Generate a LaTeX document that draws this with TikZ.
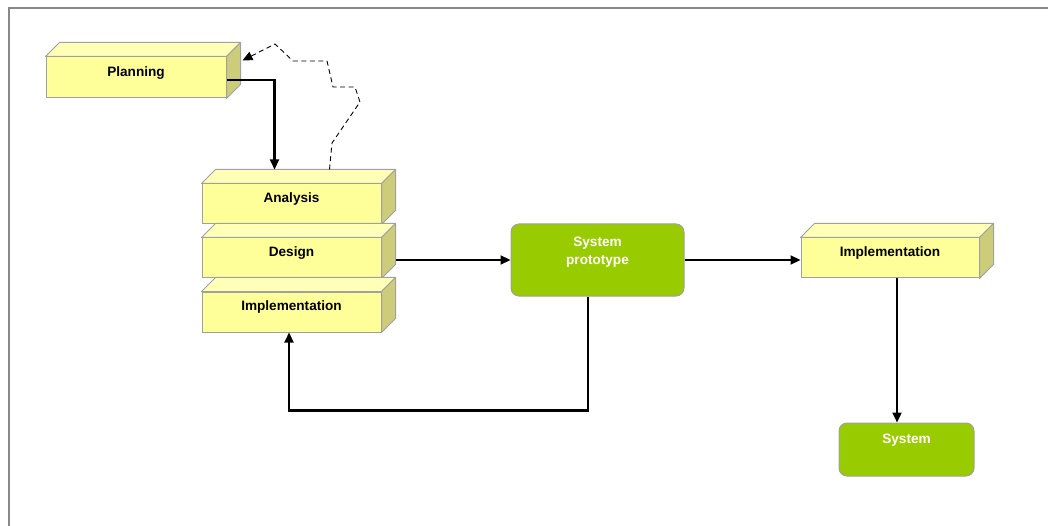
\documentclass[tikz,border=0pt]{standalone}
\usepackage{fontspec}
\setmainfont{Liberation Sans}
\usetikzlibrary{calc,arrows.meta}

\definecolor{boxfront}{HTML}{FFFF99}
\definecolor{boxtop}{HTML}{FFFFB8}
\definecolor{boxside}{HTML}{CCCC7A}
\definecolor{boxedge}{HTML}{A0A0A0}
\definecolor{protogreen}{HTML}{99CC00}
\definecolor{framegray}{HTML}{888888}

\tikzset{
  slab/.style={draw=boxedge, fill=boxfront, line width=1pt, inner sep=0pt,
    minimum width=179pt, minimum height=40pt},
  slabtop/.style={draw=boxedge, fill=boxtop, line width=1pt, line join=round},
  slabside/.style={draw=boxedge, fill=boxside, line width=1pt, line join=round},
  greenbox/.style={draw=boxedge, fill=protogreen, line width=1pt, rounded corners=8pt, inner sep=0pt},
  lbl/.style={font=\bfseries\fontsize{13.6}{18}\selectfont, text=black, inner sep=0pt, align=center},
  lblw/.style={lbl, text=white},
  arr/.style={line width=2.2pt, -{Triangle[length=10pt,width=9pt]}},
  fb/.style={line width=0.9pt, dash pattern=on 5pt off 3.5pt, -{Triangle[length=10pt,width=9pt]}},
}

% top and right faces of a raised slab whose front face is node #1
\newcommand\slabfaces[1]{%
  \draw[slabtop] (#1.north west) -- ++(14,-14) -- ($(#1.north east)+(14,-14)$) -- (#1.north east) -- cycle;
  \draw[slabside] (#1.north east) -- ++(14,-14) -- ($(#1.south east)+(14,-14)$) -- (#1.south east) -- cycle;
}

\begin{document}
\begin{tikzpicture}[x=1pt,y=-1pt]
\useasboundingbox (0,0) rectangle (1048,526);
\fill[white] (0,0) rectangle (1048,526);
\draw[framegray, line width=2pt] (8.5,526) -- (8.5,8.5) -- (1048,8.5);

% waterfall slabs
\node[slab, minimum width=180pt, minimum height=41pt] (plan) at (136,77.5) {};
\slabfaces{plan}
\node[lbl] (planT) at ($(plan.center)+(0,-4)$) {Planning};

\node[slab] (ana) at (291.5,204) {};
\slabfaces{ana}
\node[lbl] (anaT) at ($(ana.center)+(0,-5)$) {Analysis};

\node[slab] (des) at (291.5,258) {};
\slabfaces{des}
\node[lbl] (desT) at ($(des.center)+(0,-5)$) {Design};

\node[slab] (imp) at (291.5,312) {};
\slabfaces{imp}
\node[lbl] (impT) at ($(imp.center)+(0,-5)$) {Implementation};

\node[slab, minimum width=178pt] (impR) at (890,258) {};
\slabfaces{impR}
\node[lbl] (impRT) at ($(impR.center)+(0,-5)$) {Implementation};

% prototype and final system
\node[greenbox, minimum width=173pt, minimum height=72pt] (proto) at (597.5,260) {};
\node[lblw] (protoT) at (597.5,252) {System\\prototype};

\node[greenbox, minimum width=135pt, minimum height=53pt] (sys) at (906.5,449.5) {};
\node[lblw] (sysT) at (906.5,440) {System};

% connectors
\coordinate (anaIn) at ($(ana.north west)+(73,-14)$);
\draw[arr] ($(plan.east)+(0,2.5)$) -| (anaIn);

\coordinate (anaBack) at ($(ana.north west)+(128,-14)$);
\draw[fb] (anaBack) -- (332,143) -- (360,102) -- (355,87) -- (333,87)
  -- (327,61) -- (293,61) -- (275,44) -- ($(plan.north east)+(16,4)$);

\draw[arr] ($(des.east)+(14,2)$) -- (proto.west);
\draw[arr] (proto.east) -- (proto.east -| impR.west);

\coordinate (protoOut) at ($(proto.south)+(-9.5,0)$);
\coordinate (impIn) at ($(imp.south)+(-2.5,0)$);
\draw[arr] (protoOut) -- ++(0,114) -| (impIn);

\coordinate (impROut) at ($(impR.south)+(7,0)$);
\draw[arr] (impROut) -- (impROut |- sys.north);
\end{tikzpicture}
\end{document}
